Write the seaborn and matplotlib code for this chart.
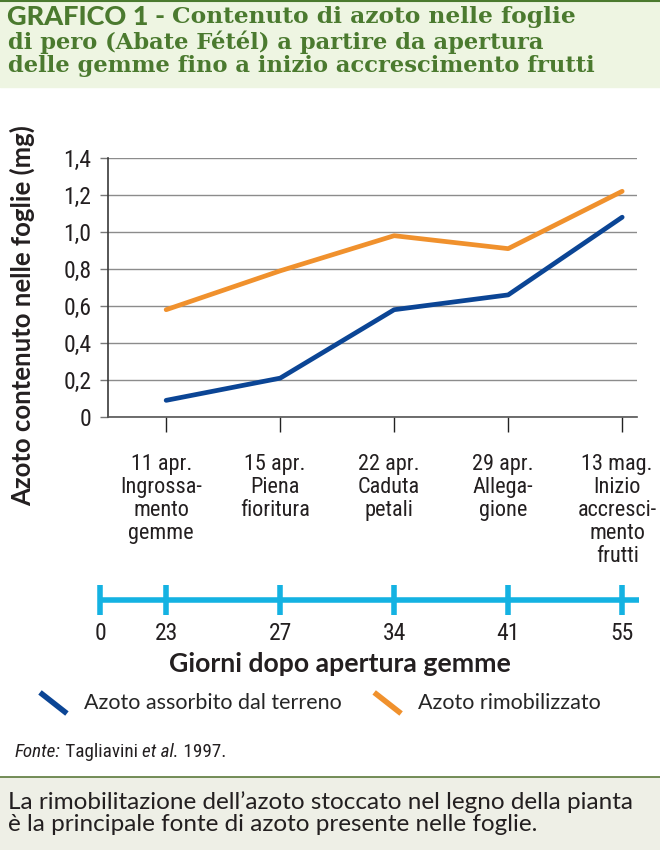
import matplotlib
matplotlib.use("Agg")
import numpy as np
import pandas as pd
import matplotlib.pyplot as plt
import seaborn as sns
from matplotlib import font_manager as fm
from matplotlib.lines import Line2D
from matplotlib.patches import Rectangle
from matplotlib.legend_handler import HandlerBase
from matplotlib.transforms import ScaledTranslation

# data
dates = ["11 apr.", "15 apr.", "22 apr.", "29 apr.", "13 mag."]
phases = ["Ingrossa-\nmento\ngemme", "Piena\nfioritura", "Caduta\npetali",
          "Allega-\ngione", "Inizio\naccresci-\nmento\nfrutti"]
absorbed = [0.09, 0.21, 0.58, 0.66, 1.08]
remobilized = [0.58, 0.79, 0.98, 0.91, 1.22]
days = [0, 23, 27, 34, 41, 55]
series_names = ["Azoto assorbito dal terreno", "Azoto rimobilizzato"]

BLUE = "#0b4595"
ORANGE = "#f0912d"
CYAN = "#14b2e2"
GREEN = "#4b7a2f"
DARK = "#231f20"

# pick a condensed sans if one is installed
names = {f.name for f in fm.fontManager.ttflist}
narrow, stretch = None, "normal"
for cand in ["Liberation Sans Narrow", "DejaVu Sans Condensed", "Roboto Condensed",
             "Open Sans Condensed", "Noto Sans Condensed"]:
    if cand in names:
        narrow = cand
        break
if narrow is None:
    for f in fm.fontManager.ttflist:
        if f.name in ("Noto Sans", "Open Sans", "Roboto") and f.stretch in ("condensed", "semi-condensed"):
            narrow, stretch = f.name, f.stretch
            break
if narrow is None:
    narrow = "Roboto"
condensed = narrow != "Roboto" or stretch != "normal"
serif_title = "DejaVu Serif"
sans = "Lato"

sns.set_theme(style="white")
plt.rcParams["font.family"] = [narrow, "DejaVu Sans"]
plt.rcParams["font.stretch"] = stretch

fig = plt.figure(figsize=(6.6, 8.5), dpi=100)
W, H = 660, 850

def fx(px):
    return px / W

def fy(py):
    return 1 - py / H

# header and footer boxes
fig.add_artist(Rectangle((0, fy(87)), 1, 87 / H, transform=fig.transFigure,
                         color="#eef5e2", zorder=0))
fig.add_artist(Line2D([0, 1], [fy(1), fy(1)], transform=fig.transFigure, color=GREEN, lw=1.5))
fig.add_artist(Rectangle((0, 0), 1, fy(777), transform=fig.transFigure,
                         color="#eeefe6", zorder=0))
fig.add_artist(Line2D([0, 1], [fy(777), fy(777)], transform=fig.transFigure, color="#5c7a3c", lw=1.2))

# title: sans bold prefix followed by slab serif
tsize = 16.3
t = fig.text(fx(7), fy(17), "GRAFICO 1 - ", fontsize=19.5, fontweight="black", family=sans,
             color=GREEN, va="center", ha="left")
fig.canvas.draw()
bb = t.get_window_extent()
fig.text(bb.x1 / W, fy(17), "Contenuto di azoto nelle foglie", fontsize=16.8, family=serif_title,
         fontweight="bold", color=GREEN, va="center", ha="left")
fig.text(fx(8), fy(42), "di pero (Abate Fétél) a partire da apertura", fontsize=tsize,
         family=serif_title, fontweight="bold", color=GREEN, va="center", ha="left")
fig.text(fx(8), fy(66), "delle gemme fino a inizio accrescimento frutti", fontsize=tsize,
         family=serif_title, fontweight="bold", color=GREEN, va="center", ha="left")

# main axes
ax = fig.add_axes([fx(108), fy(417), fx(637) - fx(108), fy(158) - fy(417)])
df = pd.DataFrame({
    "pos": list(range(len(dates))) * 2,
    "value": absorbed + remobilized,
    "serie": [series_names[0]] * len(dates) + [series_names[1]] * len(dates),
})
sns.lineplot(data=df, x="pos", y="value", hue="serie", palette=[BLUE, ORANGE],
             linewidth=3.4, legend=False, ax=ax)
ax.set_xlim(-0.51, 4.13)
ax.set_ylim(0, 1.4)
ax.set_yticks(np.arange(0, 1.41, 0.2))
ax.set_yticklabels(["0"] + [f"{v:.1f}".replace(".", ",") for v in np.arange(0.2, 1.41, 0.2)],
                   fontsize=17, color=DARK)
ax.set_xticks(range(len(dates)))
ax.set_xticklabels([])

# category labels, nudged slightly left like the original
cat_size = 16 if condensed else 15
lab_tr = ax.get_xaxis_transform() + ScaledTranslation(-5 / 100, -37 / 100, fig.dpi_scale_trans)
for i, (d, p) in enumerate(zip(dates, phases)):
    ax.text(i, 0, f"{d}\n{p}", transform=lab_tr, ha="center", va="top",
            fontsize=cat_size, color=DARK, linespacing=1.12, multialignment="center")

ax.set_xlabel("")
ax.set_ylabel("")
ax.grid(axis="y", color="#8c8c8c", lw=1)
ax.grid(axis="x", visible=False)
ax.set_axisbelow(True)
for s in ["top", "right"]:
    ax.spines[s].set_visible(False)
ax.spines["left"].set_color("#3a3a3a")
ax.spines["bottom"].set_color("#555555")
ax.spines["left"].set_linewidth(1.2)
ax.spines["bottom"].set_linewidth(1.2)
ax.tick_params(axis="y", direction="out", length=6, width=1, color="#777777", pad=6, left=True)
ax.tick_params(axis="x", direction="out", length=11, width=1, color="#222222", bottom=True)

fig.text(fx(22), fy(316), "Azoto contenuto nelle foglie (mg)", rotation=90, fontsize=18.5,
         fontweight="bold", family=sans, color=DARK, ha="center", va="center")

# timeline of days after bud opening
ax2 = fig.add_axes([fx(108), fy(615), fx(637) - fx(108), 30 / H])
ax2.set_xlim(ax.get_xlim())
ax2.set_ylim(-1, 1)
ax2.axis("off")
tl_pos = [-0.58] + list(range(len(dates)))
ax2.plot([tl_pos[0], 4.15], [0, 0], color=CYAN, lw=4, solid_capstyle="butt", clip_on=False)
ax2.vlines(tl_pos, -1, 1, color=CYAN, lw=4, clip_on=False)
for p, d in zip(tl_pos, days):
    ax2.text(p, -2.2, str(d), ha="center", va="center", fontsize=17, color=DARK)
fig.text(fx(340), fy(664), "Giorni dopo apertura gemme", fontsize=19.2, fontweight="bold",
         family=sans, color=DARK, ha="center", va="center")

# legend with diagonal handles
class DiagHandler(HandlerBase):
    def create_artists(self, legend, orig_handle, xdescent, ydescent, width, height,
                       fontsize, trans):
        ln = Line2D([-xdescent, -xdescent + width],
                    [-ydescent + height * 1.1, -ydescent - height * 0.3],
                    color=orig_handle.get_color(), lw=orig_handle.get_linewidth(),
                    solid_capstyle="butt", transform=trans)
        return [ln]

handles = [Line2D([], [], color=BLUE, lw=4), Line2D([], [], color=ORANGE, lw=4)]
fig.legend(handles, series_names, loc="center left", bbox_to_anchor=(fx(40), fy(703)),
           ncol=2, frameon=False, handler_map={Line2D: DiagHandler()},
           handlelength=1.25, handletextpad=0.8, columnspacing=1.5,
           borderpad=0, borderaxespad=0, prop={"family": sans, "size": 15.5})

# source line, mixed italic
pieces = [("Fonte:", "italic"), (" Tagliavini ", "normal"), ("et al.", "italic"), (" 1997.", "normal")]
x0 = fx(15)
fsize = 13.8 if condensed else 12
for txt, style in pieces:
    tt = fig.text(x0, fy(752), txt, fontsize=fsize, style=style, color=DARK, ha="left", va="center")
    fig.canvas.draw()
    x0 = tt.get_window_extent().x1 / W

fig.text(fx(8), fy(813), "La rimobilitazione dell\u2019azoto stoccato nel legno della pianta\n"
         "è la principale fonte di azoto presente nelle foglie.", fontsize=17.5,
         family=sans, color=DARK, ha="left", va="center", linespacing=1.08)

fig.savefig("out.png", dpi=100)
